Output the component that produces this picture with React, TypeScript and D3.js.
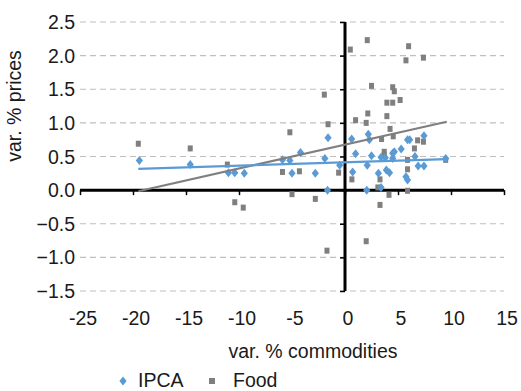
import React, { useRef, useEffect } from 'react';
import * as d3 from 'd3';

// tick values
const xTicks = [-25, -20, -15, -10, -5, 0, 5, 10, 15];
const yTicks = [-1.5, -1.0, -0.5, 0.0, 0.5, 1.0, 1.5, 2.0, 2.5];

// IPCA series (var. % commodities, var. % prices)
const ipcaX = [-19.4, -14.6, -11.0, -10.4, -9.5, -5.9, -5.2, -5.0, -4.2, -2.8, -1.9, -1.6, -1.65, -0.5,
  0.63, 0.72, 1.0, 2.05, 2.1, 2.2, 2.3, 2.5, 3.15, 3.4, 3.4, 3.8, 3.9, 4.2, 4.5, 4.65, 4.5, 5.3,
  5.9, 6.1, 5.75, 5.9, 6.6, 6.9, 7.45, 7.45, 9.5];
const ipcaY = [0.44, 0.38, 0.26, 0.26, 0.25, 0.45, 0.44, 0.25, 0.56, 0.25, 0.47, 0.78, 0.0, 0.37,
  0.76, 0.27, 0.54, 0.0, 0.37, 0.83, 0.75, 0.51, 0.25, 0.04, 0.49, 0.48, 0.30, 0.26, 0.55, 0.57, 0.47, 0.61,
  0.75, 0.75, 0.2, 0.15, 0.50, 0.36, 0.36, 0.81, 0.47];

// Food series
const foodX = [-19.5, -14.6, -11.1, -10.4, -9.6, -5.9, -5.2, -5.0, -4.3, -2.8, -1.95, -1.6, -1.7, -0.6,
  0.5, 0.65, 1.0, 2.0, 2.1, 2.15, 2.0, 2.5, 3.1, 3.3, 3.3, 3.45, 3.7, 3.7, 3.95, 3.95, 4.5, 4.15,
  4.25, 4.55, 4.5, 4.65, 5.2, 5.75, 6.0, 5.9, 5.9, 5.9, 6.55, 6.85, 7.4, 7.4, 9.5];
const foodY = [0.69, 0.62, 0.38, -0.18, -0.26, 0.27, 0.86, -0.06, 0.28, -0.13, 1.42, 0.98, -0.90, 0.26,
  2.09, 0.16, 1.04, -0.76, 2.23, 1.14, 1.0, 1.55, 0.04, 0.16, -0.22, 0.76, 0.57, 0.52, 1.10, 1.30, 1.30, -0.07,
  0.91, 0.80, 1.53, 1.47, 1.34, 1.93, 2.14, 0.45, 0.31, -0.01, 0.62, 0.74, 0.72, 1.97, 0.45];

// linear trendlines: [intercept, slope]
const ipcaTrend = [0.413, 0.0049];
const foodTrend = [0.676, 0.0355];
const trendRange = [-19.5, 9.6];

const legendItems = ['IPCA', 'Food'];

const BLUE = '#5b9bd5';
const GRAY = '#7f7f7f';
const FONT = '"Liberation Sans", Arial, sans-serif';
const DIAMOND = 'M0,-4.5L3.6,0L0,4.5L-3.6,0Z';

export default function App() {
  const svgRef = useRef<SVGSVGElement>(null);

  useEffect(() => {
    const svg = d3.select(svgRef.current);
    svg.selectAll('*').remove();

    const xScale = d3.scaleLinear().domain([-25, 15]).range([80, 504]);
    const yScale = d3.scaleLinear().domain([-1.5, 2.5]).range([291, 22]);
    const x0 = xScale(0);
    const y0 = yScale(0);

    // gridlines
    svg.append('g')
      .selectAll('line')
      .data(yTicks.filter(d => d !== 0))
      .join('line')
      .attr('x1', xScale(-25))
      .attr('x2', xScale(15))
      .attr('y1', d => yScale(d))
      .attr('y2', d => yScale(d))
      .attr('stroke', '#bfbfbf')
      .attr('stroke-width', 1.2)
      .attr('stroke-dasharray', '6,4');

    // y axis
    const yAxis = d3.axisLeft(yScale).tickValues(yTicks).tickSize(5).tickFormat(() => '');
    const gy = svg.append('g').attr('transform', `translate(${x0},0)`).call(yAxis);
    gy.select('.domain').remove();
    gy.selectAll('line').attr('stroke', '#000').attr('stroke-width', 1.5);

    // x axis
    const xAxis = d3.axisBottom(xScale).tickValues(xTicks).tickSize(5).tickFormat(() => '');
    const gx = svg.append('g').attr('transform', `translate(0,${y0})`).call(xAxis);
    gx.select('.domain').remove();
    gx.selectAll('line').attr('stroke', '#000').attr('stroke-width', 1.5);

    svg.append('line')
      .attr('x1', x0).attr('x2', x0)
      .attr('y1', yScale(2.5)).attr('y2', yScale(-1.5))
      .attr('stroke', '#000').attr('stroke-width', 3);
    svg.append('line')
      .attr('x1', xScale(-25)).attr('x2', xScale(15))
      .attr('y1', y0).attr('y2', y0)
      .attr('stroke', '#000').attr('stroke-width', 3);

    // tick labels
    svg.append('g')
      .selectAll('text')
      .data(yTicks)
      .join('text')
      .attr('x', 75)
      .attr('y', d => yScale(d) + 7)
      .attr('text-anchor', 'end')
      .text(d => d3.format('.1f')(d));

    svg.append('g')
      .selectAll('text')
      .data(xTicks)
      .join('text')
      .attr('x', d => xScale(d) + 3)
      .attr('y', 325)
      .attr('text-anchor', 'middle')
      .text(d => String(d));

    // axis titles
    svg.append('text')
      .attr('x', 313).attr('y', 358)
      .attr('text-anchor', 'middle')
      .text('var. % commodities');
    svg.append('text')
      .attr('transform', 'translate(21,106) rotate(-90)')
      .attr('text-anchor', 'middle')
      .text('var. % prices');

    // food squares
    svg.append('g')
      .selectAll('rect')
      .data(foodX.map((d, i) => [d, foodY[i]]))
      .join('rect')
      .attr('x', d => xScale(d[0]) - 2.5)
      .attr('y', d => yScale(d[1]) - 3)
      .attr('width', 5)
      .attr('height', 6)
      .attr('fill', GRAY);

    // ipca diamonds
    svg.append('g')
      .selectAll('path')
      .data(ipcaX.map((d, i) => [d, ipcaY[i]]))
      .join('path')
      .attr('d', DIAMOND)
      .attr('transform', d => `translate(${xScale(d[0])},${yScale(d[1])})`)
      .attr('fill', BLUE);

    // trendlines
    const line = d3.line<number>()
      .x(d => xScale(d));
    [[foodTrend, GRAY], [ipcaTrend, BLUE]].forEach(([t, c]: any) => {
      svg.append('path')
        .datum(trendRange)
        .attr('d', line.y(d => yScale(t[0] + t[1] * d)))
        .attr('fill', 'none')
        .attr('stroke', c)
        .attr('stroke-width', 2.2);
    });

    // legend
    const lg = svg.append('g');
    lg.append('path')
      .attr('d', DIAMOND)
      .attr('transform', 'translate(123,381)')
      .attr('fill', BLUE);
    lg.append('rect')
      .attr('x', 209).attr('y', 378).attr('width', 6).attr('height', 6)
      .attr('fill', GRAY);
    lg.selectAll('text')
      .data(legendItems)
      .join('text')
      .attr('x', (d, i) => (i === 0 ? 138 : 233))
      .attr('y', 387)
      .text(d => d);
  }, []);

  return (
    <svg
      ref={svgRef}
      width={521}
      height={391}
      style={{ position: 'absolute', left: 0, top: 0, background: '#fff' }}
      fontFamily={FONT}
      fontSize={19.5}
      fill="#1a1a1a"
    />
  );
}
